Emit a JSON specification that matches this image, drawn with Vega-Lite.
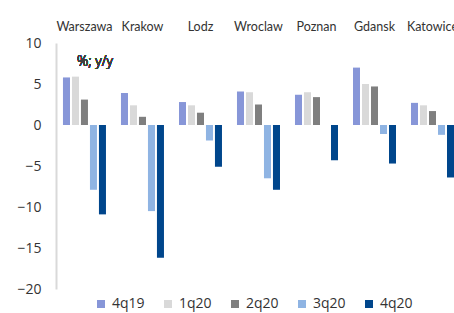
{
  "$schema": "https://vega.github.io/schema/vega-lite/v6.json",
  "autosize": {"type": "none"},
  "width": 398,
  "height": 246,
  "padding": {"left": 56, "top": 43, "right": 0, "bottom": 24},
  "background": "white",
  "config": {"view": {"stroke": null}, "font": "Open Sans"},
  "data": {
    "values": [
      {"city": "Warszawa", "q": "4q19", "v": 5.8},
      {"city": "Warszawa", "q": "1q20", "v": 5.9},
      {"city": "Warszawa", "q": "2q20", "v": 3.1},
      {"city": "Warszawa", "q": "3q20", "v": -7.9},
      {"city": "Warszawa", "q": "4q20", "v": -10.9},
      {"city": "Krakow", "q": "4q19", "v": 3.9},
      {"city": "Krakow", "q": "1q20", "v": 2.4},
      {"city": "Krakow", "q": "2q20", "v": 1.0},
      {"city": "Krakow", "q": "3q20", "v": -10.5},
      {"city": "Krakow", "q": "4q20", "v": -16.2},
      {"city": "Lodz", "q": "4q19", "v": 2.8},
      {"city": "Lodz", "q": "1q20", "v": 2.4},
      {"city": "Lodz", "q": "2q20", "v": 1.5},
      {"city": "Lodz", "q": "3q20", "v": -1.9},
      {"city": "Lodz", "q": "4q20", "v": -5.1},
      {"city": "Wroclaw", "q": "4q19", "v": 4.1},
      {"city": "Wroclaw", "q": "1q20", "v": 4.0},
      {"city": "Wroclaw", "q": "2q20", "v": 2.5},
      {"city": "Wroclaw", "q": "3q20", "v": -6.5},
      {"city": "Wroclaw", "q": "4q20", "v": -7.9},
      {"city": "Poznan", "q": "4q19", "v": 3.7},
      {"city": "Poznan", "q": "1q20", "v": 4.0},
      {"city": "Poznan", "q": "2q20", "v": 3.4},
      {"city": "Poznan", "q": "3q20", "v": 0},
      {"city": "Poznan", "q": "4q20", "v": -4.3},
      {"city": "Gdansk", "q": "4q19", "v": 7.0},
      {"city": "Gdansk", "q": "1q20", "v": 5.0},
      {"city": "Gdansk", "q": "2q20", "v": 4.7},
      {"city": "Gdansk", "q": "3q20", "v": -1.1},
      {"city": "Gdansk", "q": "4q20", "v": -4.7},
      {"city": "Katowice", "q": "4q19", "v": 2.7},
      {"city": "Katowice", "q": "1q20", "v": 2.4},
      {"city": "Katowice", "q": "2q20", "v": 1.7},
      {"city": "Katowice", "q": "3q20", "v": -1.2},
      {"city": "Katowice", "q": "4q20", "v": -6.4}
    ]
  },
  "encoding": {
    "x": {
      "field": "city",
      "type": "nominal",
      "sort": null,
      "scale": {"paddingInner": 0.2586, "paddingOuter": 0.06, "align": 1},
      "axis": {
        "orient": "top",
        "title": null,
        "domain": false,
        "ticks": false,
        "labelAngle": 0,
        "labelFont": "Lato",
        "labelFontSize": 12.5,
        "labelColor": "#333333",
        "labelPadding": 10,
        "labelOverlap": false,
        "labelBound": false
      }
    }
  },
  "layer": [
    {
      "mark": {"type": "bar", "orient": "vertical"},
      "encoding": {
        "xOffset": {
          "field": "q",
          "type": "nominal",
          "sort": ["4q19", "1q20", "2q20", "3q20", "4q20"],
          "scale": {"paddingInner": 0.22, "paddingOuter": 0}
        },
        "y": {
          "field": "v",
          "type": "quantitative",
          "scale": {"domain": [-20, 10], "nice": false, "zero": false},
          "axis": {
            "title": null,
            "values": [-20, -15, -10, -5, 0, 5, 10],
            "grid": false,
            "ticks": false,
            "domainColor": "#d9d9d9",
            "domainWidth": 2,
            "labelFontSize": 14,
            "labelColor": "#333333",
            "labelPadding": 15
          }
        },
        "color": {
          "field": "q",
          "type": "nominal",
          "sort": ["4q19", "1q20", "2q20", "3q20", "4q20"],
          "scale": {
            "domain": ["4q19", "1q20", "2q20", "3q20", "4q20"],
            "range": ["#8796D8", "#D9D9D9", "#7F7F7F", "#8FB4E3", "#00468C"]
          },
          "legend": {
            "title": null,
            "orient": "none",
            "direction": "horizontal",
            "legendX": 38,
            "legendY": 254,
            "symbolType": "square",
            "symbolSize": 64,
            "symbolStrokeWidth": 0,
            "labelFontSize": 14,
            "labelColor": "#333333",
            "labelOffset": 4,
            "columnPadding": 16
          }
        }
      }
    },
    {
      "mark": {"type": "rule", "color": "#d9d9d9", "strokeWidth": 2},
      "encoding": {"y": {"datum": 0}}
    },
    {
      "mark": {"type": "text", "align": "left", "baseline": "middle", "fontSize": 14, "font": "Open Sans", "fontWeight": 300, "color": "#404040", "dx": 14},
      "encoding": {
        "x": {"datum": "Warszawa", "bandPosition": 0},
        "y": {"datum": 7.7},
        "text": {"value": "%; y/y"}
      }
    }
  ]
}
